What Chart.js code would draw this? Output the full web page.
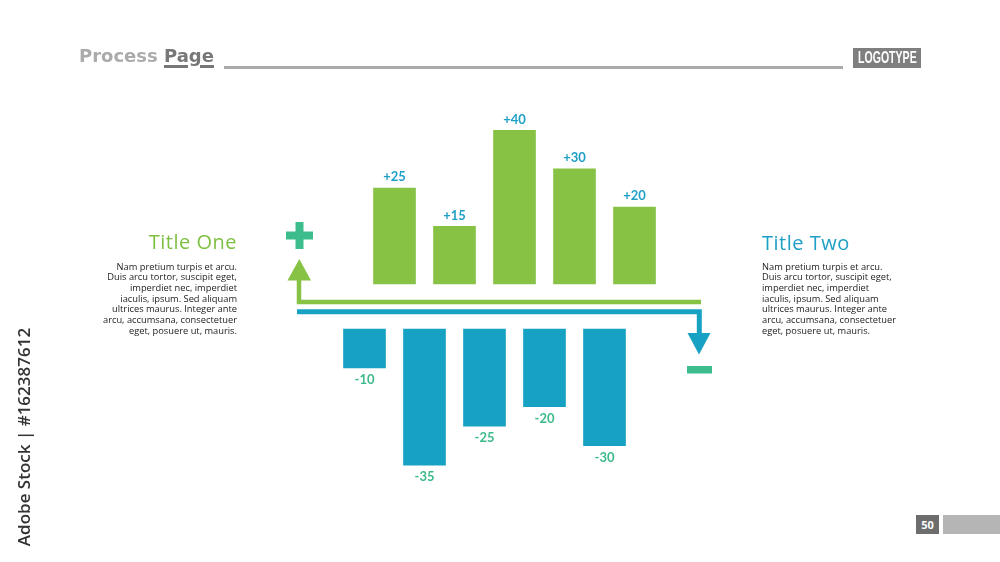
<!DOCTYPE html>
<html>
<head>
<meta charset="utf-8">
<script src="https://cdn.jsdelivr.net/npm/chart.js@4/dist/chart.umd.min.js"></script>
<style>
  body { margin:0; background:#fff; }
  #page { position:relative; width:1000px; height:562px; overflow:hidden; background:#fff; font-family:"Open Sans", sans-serif; }
  #chart { position:absolute; left:0; top:0; }
  .abs { position:absolute; white-space:nowrap; }
  #head { left:79px; top:46px; font:bold 18px "DejaVu Sans", sans-serif; line-height:20px; color:#ababab; }
  #head span { color:#777; text-decoration:underline; text-decoration-thickness:3px; text-underline-offset:3px; }
  #headLine { left:224px; top:66px; width:619px; height:3px; background:#aaa; }
  #logo { left:853px; top:48px; width:68px; height:20px; background:#7f7f7f; color:#fff; text-align:center;
          font:bold 12px "Liberation Sans", Arial, sans-serif; line-height:20px; overflow:visible; }
  #logo b { display:inline-block; transform:scale(0.88,1.35); }
  .title { font-size:20px; line-height:24px; letter-spacing:0.5px; }
  .para { font-size:9.3px; line-height:10.7px; color:#222; }
  #t1 { right:763px; top:230px; color:#7fc043; text-align:right; }
  #p1 { right:763px; top:261.5px; text-align:right; }
  #t2 { left:762px; top:231px; color:#1e9fc6; }
  #p2 { left:762px; top:261.5px; }
  #pnum { left:916px; top:515px; width:23px; height:19px; background:#6d6d6d; color:#fff; font:bold 11px "Open Sans", sans-serif; line-height:19px; text-align:center; }
  #pbar { left:943px; top:515px; width:57px; height:19px; background:#b5b5b5; }
  #stock { left:23px; top:437px; transform:translate(-50%,-50%) rotate(-90deg); font:600 17px "Open Sans", sans-serif; color:#333; }
  svg { position:absolute; left:0; top:0; }
</style>
</head>
<body>
<div id="page">
  <canvas id="chart" width="1000" height="562"></canvas>
  <svg width="1000" height="562">
    <!-- green arrow going up -->
    <polyline points="701,302 299,302 299,279" fill="none" stroke="#88c245" stroke-width="4.5"/>
    <polygon points="287.5,280.5 311,280.5 299.3,259" fill="#88c245"/>
    <!-- blue arrow going down -->
    <polyline points="297,311.8 699.3,311.8 699.3,334" fill="none" stroke="#17a1c3" stroke-width="5"/>
    <polygon points="687.5,333 710.5,333 699,354.5" fill="#17a1c3"/>
    <!-- plus / minus -->
    <rect x="286" y="231.5" width="27" height="8" fill="#3dbd8e"/>
    <rect x="295.5" y="222" width="8" height="27" fill="#3dbd8e"/>
    <rect x="687" y="366" width="25" height="7.5" fill="#3dbd8e"/>
  </svg>
  <div class="abs" id="head">Process <span>Page</span></div>
  <div class="abs" id="headLine"></div>
  <div class="abs" id="logo"><b>LOGOTYPE</b></div>

  <div class="abs title" id="t1">Title One</div>
  <div class="abs para" id="p1">Nam pretium turpis et arcu.<br>Duis arcu tortor, suscipit eget,<br>imperdiet nec, imperdiet<br>iaculis, ipsum. Sed aliquam<br>ultrices maurus. Integer ante<br>arcu, accumsana, consectetuer<br>eget, posuere ut, mauris.</div>

  <div class="abs title" id="t2">Title Two</div>
  <div class="abs para" id="p2">Nam pretium turpis et arcu.<br>Duis arcu tortor, suscipit eget,<br>imperdiet nec, imperdiet<br>iaculis, ipsum. Sed aliquam<br>ultrices maurus. Integer ante<br>arcu, accumsana, consectetuer<br>eget, posuere ut, mauris.</div>

  <div class="abs" id="pnum">50</div>
  <div class="abs" id="pbar"></div>
  <div class="abs" id="stock">Adobe Stock | #162387612</div>
</div>

<script>
// data
const categories = ['A', 'B', 'C', 'D', 'E'];
const positiveValues = [25, 15, 40, 30, 20];
const negativeValues = [-10, -35, -25, -20, -30];

const greenColor = '#88c245';
const blueColor = '#17a1c3';

// each category takes two slots: negative bar first, positive bar next
const slotLabels = [];
const posData = [];
const negData = [];
categories.forEach((c, i) => {
    slotLabels.push(c + '-');
    posData.push(null);
    negData.push(negativeValues[i]);
    slotLabels.push(c + '+');
    posData.push(positiveValues[i]);
    negData.push(null);
});

// value labels above / below bars
const valueLabels = {
    id: 'valueLabels',
    afterDatasetsDraw(chart) {
        const ctx = chart.ctx;
        ctx.save();
        ctx.font = 'bold 13px Lato, "Open Sans", sans-serif';
        ctx.textAlign = 'center';
        ctx.textBaseline = 'middle';
        chart.data.datasets.forEach((ds, di) => {
            const meta = chart.getDatasetMeta(di);
            meta.data.forEach((bar, i) => {
                const v = ds.data[i];
                if (v === null) return;
                if (v > 0) {
                    ctx.fillStyle = '#1e9fc6';
                    ctx.fillText('+' + v, bar.x, bar.y - 11);
                } else {
                    ctx.fillStyle = '#3dba8a';
                    ctx.fillText(String(v), bar.x, bar.y + 12);
                }
            });
        });
        ctx.restore();
    }
};

new Chart(document.getElementById('chart').getContext('2d'), {
    type: 'bar',
    data: {
        labels: slotLabels,
        datasets: [
            { label: 'Plus', data: posData, backgroundColor: greenColor, yAxisID: 'yUp', grouped: false, barThickness: 42, clip: false },
            { label: 'Minus', data: negData, backgroundColor: blueColor, yAxisID: 'yDown', grouped: false, barThickness: 42, clip: false }
        ]
    },
    options: {
        responsive: false,
        devicePixelRatio: 1,
        animation: false,
        layout: { padding: { left: 349.5, right: 350.5, top: 130, bottom: 92 } },
        plugins: { legend: { display: false }, tooltip: { enabled: false } },
        scales: {
            x: { type: 'category', display: false, offset: true, grid: { display: false } },
            yUp: { type: 'linear', display: false, position: 'right', stack: 'v', stackWeight: 176.5, min: -5.86, max: 40.1 },
            yDown: { type: 'linear', display: false, position: 'right', stack: 'v', stackWeight: 163.5, min: -36.25, max: 5.78 }
        }
    },
    plugins: [valueLabels]
});
</script>
</body>
</html>
